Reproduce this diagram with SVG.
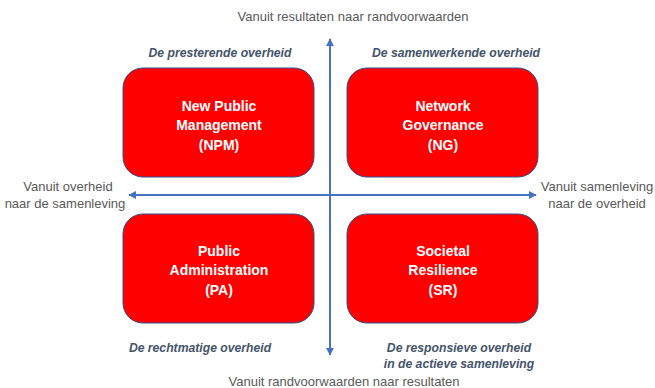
<svg xmlns="http://www.w3.org/2000/svg" width="655" height="388" viewBox="0 0 655 388">
<style>
.box{fill:#ff0000;stroke:#2f528f;stroke-width:1}
.bt{font-family:"Liberation Sans",Arial,sans-serif;font-weight:bold;font-size:14px;fill:#ffffff;text-anchor:middle}
.it{font-family:"Liberation Sans",Arial,sans-serif;font-weight:bold;font-style:italic;font-size:12.2px;fill:#44546a;text-anchor:middle}
.ax{font-family:"Liberation Sans",Arial,sans-serif;font-size:13px;fill:#595959;text-anchor:middle}
.ln{stroke:#4472c4;stroke-width:2;fill:none}
</style>
<defs>
<marker id="ah" viewBox="0 0 10 10" refX="9" refY="5" markerWidth="4" markerHeight="4" orient="auto-start-reverse">
<path d="M0,0 L10,5 L0,10 z" fill="#4472c4"/>
</marker>
</defs>
<rect width="655" height="388" fill="#ffffff"/>
<g id="connectors">
<line class="ln" x1="330" y1="355" x2="330" y2="39" marker-start="url(#ah)" marker-end="url(#ah)"/>
<line class="ln" x1="129" y1="195" x2="536" y2="195" marker-start="url(#ah)" marker-end="url(#ah)"/>
</g>
<g id="axis-labels">
<text class="ax" x="353" y="21">Vanuit resultaten naar randvoorwaarden</text>
<text class="ax" x="344" y="386">Vanuit randvoorwaarden naar resultaten</text>
<text class="ax" x="68" y="191">Vanuit overheid</text>
<text class="ax" x="65" y="208">naar de samenleving</text>
<text class="ax" x="597" y="191">Vanuit samenleving</text>
<text class="ax" x="597" y="208">naar de overheid</text>
</g>
<g id="npm">
<rect class="box" x="123" y="68" width="191" height="109" rx="20"/>
<text class="bt" x="219" y="111">New Public</text>
<text class="bt" x="219" y="130">Management</text>
<text class="bt" x="219" y="150">(NPM)</text>
<text class="it" x="220" y="57">De presterende overheid</text>
</g>
<g id="ng">
<rect class="box" x="347" y="68" width="191" height="109" rx="20"/>
<text class="bt" x="443" y="111">Network</text>
<text class="bt" x="443" y="130">Governance</text>
<text class="bt" x="443" y="150">(NG)</text>
<text class="it" x="456" y="57">De samenwerkende overheid</text>
</g>
<g id="pa">
<rect class="box" x="123" y="214" width="191" height="109" rx="20"/>
<text class="bt" x="219" y="256">Public</text>
<text class="bt" x="219" y="275">Administration</text>
<text class="bt" x="219" y="295">(PA)</text>
<text class="it" x="200" y="352">De rechtmatige overheid</text>
</g>
<g id="sr">
<rect class="box" x="347" y="214" width="191" height="109" rx="20"/>
<text class="bt" x="443" y="256">Societal</text>
<text class="bt" x="443" y="275">Resilience</text>
<text class="bt" x="443" y="295">(SR)</text>
<text class="it" x="459" y="352">De responsieve overheid</text>
<text class="it" x="459" y="368">in de actieve samenleving</text>
</g>
</svg>
